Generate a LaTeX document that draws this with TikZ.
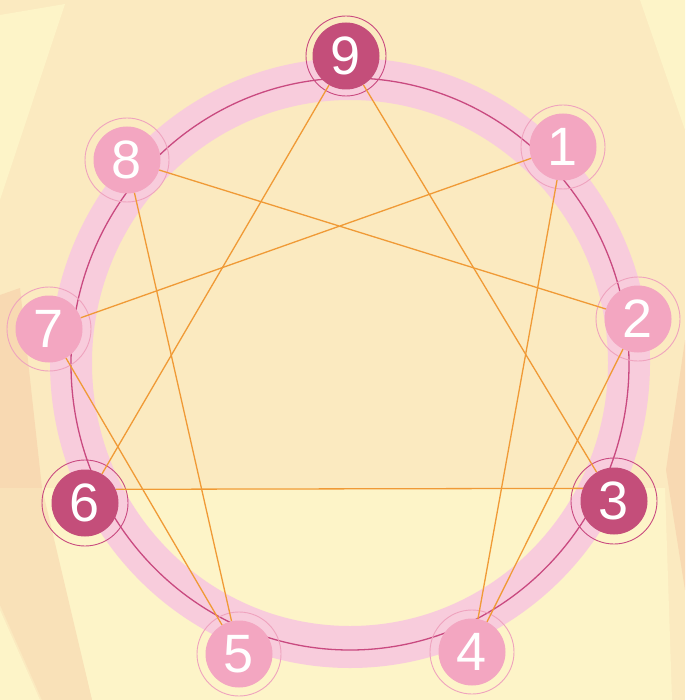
\documentclass[tikz,border=0pt]{standalone}
\usepackage{fontspec}
\setmainfont{Liberation Sans}
\usetikzlibrary{positioning}
\definecolor{enbg}{HTML}{FBEAC0}
\definecolor{enlight}{HTML}{FDF4C8}
\definecolor{enpeach}{HTML}{F8D9B2}
\definecolor{enband}{HTML}{F8CCDC}
\definecolor{enline}{HTML}{C94A80}
\definecolor{enrose}{HTML}{C44E7A}
\definecolor{enpink}{HTML}{F3A6C1}
\definecolor{enringlt}{HTML}{EFA3BE}
\definecolor{enorange}{HTML}{F09A36}

\begin{document}
\begin{tikzpicture}[x=1pt, y=-1pt,
    pt/.style={circle, minimum size=67pt, inner sep=0pt, text=white, font=\fontsize{54}{54}\selectfont},
    dk/.style={pt, fill=enrose},
    lt/.style={pt, fill=enpink},
    ln/.style={draw=enorange, line width=1.3pt},
    rdk/.style={draw=enline, line width=0.9pt},
    rlt/.style={draw=enringlt, line width=0.9pt}]
  \useasboundingbox (0,0) rectangle (685,700);
  % background
  \fill[enbg] (0,0) rectangle (685,700);
  \fill[enlight] (0,15) -- (65,4) -- (0,200) -- cycle;
  \fill[enlight] (640,0) -- (685,0) -- (685,130) -- cycle;
  \fill[enlight] (22,488) -- (665,488) -- (672,700) -- (92,700) -- (58,560) -- cycle;
  \fill[enpeach] (0,295) -- (20,288) -- (42,488) -- (0,488) -- cycle;
  \fill[enpeach!55!enbg] (0,488) -- (42,488) -- (92,700) -- (42,700) -- (0,605) -- cycle;
  \fill[enlight] (0,610) -- (40,700) -- (0,700) -- cycle;
  \fill[enpeach] (685,340) -- (666,470) -- (685,590) -- cycle;
  % ring
  \draw[enband, line width=42pt] (350,363) ellipse [x radius=279pt, y radius=284pt];
  \draw[enline, line width=1.3pt] (350,364) ellipse [x radius=279pt, y radius=286pt];
  % points
  \node[dk] (n9) at (346,56) {9};
  \node[lt] (n1) at (563,147) {1};
  \node[lt] (n2) at (638,319) {2};
  \node[dk] (n3) at (614,501) {3};
  \node[lt] (n4) at (472,652) {4};
  \node[lt] (n5) at (239,654) {5};
  \node[dk] (n6) at (85,503) {6};
  \node[lt] (n7) at (49,329) {7};
  \node[lt] (n8) at (127,160) {8};
  \foreach \n in {n1,n2,n4,n5,n7,n8}
    \draw[rlt] (\n) circle [radius=42pt];
  \foreach \n in {n3,n6}
    \draw[rdk] (\n) circle [radius=43pt];
  \draw[rdk] (n9) circle [radius=40pt];
  % lines
  \draw[ln] (n9) -- (n3);
  \draw[ln] (n6.24) -- (n3.158);
  \draw[ln] (n6) -- (n9);
  \draw[ln] (n1) -- (n4) -- (n2) -- (n8) -- (n5) -- (n7) -- (n1);
\end{tikzpicture}
\end{document}
